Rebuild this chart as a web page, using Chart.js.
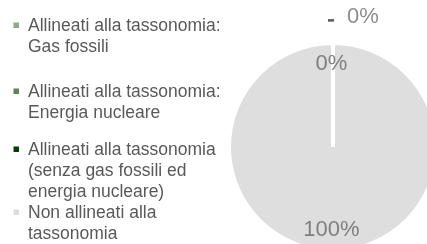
<!DOCTYPE html>
<html>
<head>
<meta charset="utf-8">
<script src="https://cdn.jsdelivr.net/npm/chart.js@4"></script>
<style>
    html, body { margin: 0; padding: 0; background: #ffffff; overflow: hidden; }
    #wrap { position: relative; width: 427px; height: 244px; }
</style>
</head>
<body>
<div id="wrap"><canvas id="pieChartTaxonomy"></canvas></div>
<script>
"use strict"

// chart data
// -----------------
var categories = [
    ['Allineati alla tassonomia:', 'Gas fossili'],
    ['Allineati alla tassonomia:', 'Energia nucleare'],
    ['Allineati alla tassonomia', '(senza gas fossili ed', 'energia nucleare)'],
    ['Non allineati alla', 'tassonomia']
];
var shares = [0, 0, 0, 100];
var sliceColors = ["#8fa98b", "#5a8457", "#0b3a0b", "#dedede"];
// where each value label goes
var labelSpots = ['outside', 'none', 'inside', 'inside'];


// legend drawn on the left, one block per category
// -----------------
var legendBaselines = [31, 97, 155, 218];

var sideLegend = {
    id: 'sideLegend',
    afterDraw: function(chart) {
        var ctx = chart.ctx;
        var colors = chart.data.datasets[0].backgroundColor;
        ctx.save();
        ctx.font = '17.5px "Liberation Sans", Arial, sans-serif';
        ctx.textAlign = 'left';
        ctx.textBaseline = 'alphabetic';
        chart.data.labels.forEach(function(lines, i) {
            var base = legendBaselines[i];
            ctx.fillStyle = colors[i];
            ctx.fillRect(13.5, base - 8.5, 5.5, 5.5);
            ctx.fillStyle = '#595959';
            lines.forEach(function(line, j) {
                ctx.fillText(line, 28, base + j * 21);
            });
        });
        ctx.restore();
    }
};


// value labels on the slices
// -----------------
var sliceLabels = {
    id: 'sliceLabels',
    afterDatasetsDraw: function(chart) {
        var ctx = chart.ctx;
        var meta = chart.getDatasetMeta(0);
        var values = chart.data.datasets[0].data;
        ctx.save();
        ctx.font = '22px "Liberation Sans", Arial, sans-serif';
        meta.data.forEach(function(arc, i) {
            var spot = labelSpots[i];
            if (spot === 'none') return;
            var p = arc.getProps(['x', 'y', 'startAngle', 'endAngle', 'outerRadius'], true);
            var mid = (p.startAngle + p.endAngle) / 2;
            var text = values[i] + '%';
            if (spot === 'inside') {
                var r = p.outerRadius * 0.80;
                ctx.fillStyle = '#7f7f7f';
                ctx.textAlign = 'center';
                ctx.textBaseline = 'middle';
                ctx.fillText(text, p.x + Math.cos(mid) * r - 1.5, p.y + Math.sin(mid) * r);
            } else {
                var ro = p.outerRadius * 1.22;
                var px = p.x + Math.cos(mid) * ro;
                var py = p.y + Math.sin(mid) * ro;
                // short leader tick
                ctx.fillStyle = '#595959';
                ctx.fillRect(px - 5, py - 1, 6, 2.5);
                ctx.fillStyle = '#8c8c8c';
                ctx.textAlign = 'left';
                ctx.textBaseline = 'alphabetic';
                ctx.fillText(text, px + 14, py + 3);
            }
        });
        ctx.restore();
    }
};


// init pie chart
// -----------------
var pieCanvas = document.getElementById('pieChartTaxonomy');

new Chart(pieCanvas, {
    type: 'pie',
    data: {
        labels: categories,
        datasets: [{
            data: shares,
            backgroundColor: sliceColors,
            hoverBackgroundColor: sliceColors,
            borderColor: '#ffffff',
            borderWidth: 4,
            clip: false
        }]
    },
    options: {
        responsive: true,
        maintainAspectRatio: false,
        animation: false,
        radius: 104,
        layout: {
            padding: { left: 239, top: 50, right: 0, bottom: 0 }
        },
        plugins: {
            legend: { display: false },
            tooltip: { enabled: false }
        }
    },
    plugins: [sideLegend, sliceLabels]
});
</script>
</body>
</html>
